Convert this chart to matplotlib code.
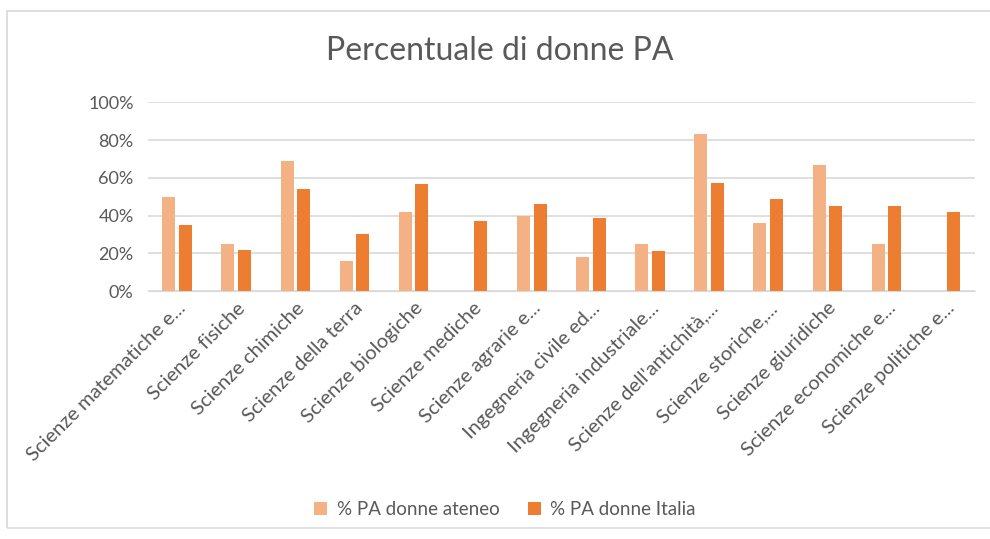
import numpy as np
import matplotlib.pyplot as plt
from matplotlib.ticker import PercentFormatter
from matplotlib.patches import Rectangle

categories = [
    "Scienze matematiche e...",
    "Scienze fisiche",
    "Scienze chimiche",
    "Scienze della terra",
    "Scienze biologiche",
    "Scienze mediche",
    "Scienze agrarie e...",
    "Ingegneria civile ed...",
    "Ingegneria industriale...",
    "Scienze dell'antichità,...",
    "Scienze storiche,...",
    "Scienze giuridiche",
    "Scienze economiche e...",
    "Scienze politiche e...",
]
ateneo = [50, 25, 69, 16, 42, 0, 40, 18, 25, 83, 36, 67, 25, 0]
italia = [35, 22, 54, 30, 57, 37, 46, 38.5, 21.5, 57.5, 49, 45, 45, 42]
labels = ["% PA donne ateneo", "% PA donne Italia"]

plt.rcParams['font.family'] = ['Lato', 'DejaVu Sans']

fig = plt.figure(figsize=(9.9, 5.39), dpi=100)
ax = fig.add_axes([0.149, 0.46, 0.836, 0.35])

x = np.arange(len(categories))
w = 0.22
ax.bar(x - 0.14, ateneo, w, color='#F4B183', label=labels[0])
ax.bar(x + 0.14, italia, w, color='#ED7D31', label=labels[1])

ax.set_xlim(-0.5, len(categories) - 0.5)
ax.set_ylim(0, 100)
ax.set_yticks([0, 20, 40, 60, 80, 100])
ax.yaxis.set_major_formatter(PercentFormatter(decimals=0))
ax.grid(axis='y', color='#D9D9D9', linewidth=1.2)
ax.set_axisbelow(True)
for s in ['top', 'right', 'left']:
    ax.spines[s].set_visible(False)
ax.spines['bottom'].set_color('#D9D9D9')
ax.tick_params(axis='both', length=0, colors='#595959', labelsize=13)
ax.tick_params(axis='y', pad=10)
ax.tick_params(axis='x', pad=6)
ax.set_xticks(x)
ax.set_xticklabels(categories, rotation=45, ha='right', rotation_mode='anchor',
                   fontsize=14.5)

fig.text(0.505, 0.905, "Percentuale di donne PA", ha='center', va='center',
         fontsize=23, color='#595959')

fig.legend(loc='center', bbox_to_anchor=(0.51, 0.055), ncol=2, frameon=False,
           fontsize=13.5, labelcolor='#595959', handlelength=0.7, handleheight=0.7,
           columnspacing=1.5, handletextpad=0.5)

fig.patches.append(Rectangle((0.007, 0.02), 1.2, 0.96, transform=fig.transFigure,
                             fill=False, edgecolor='#D9D9D9', linewidth=1.2))

fig.savefig("out.png", dpi=100)
